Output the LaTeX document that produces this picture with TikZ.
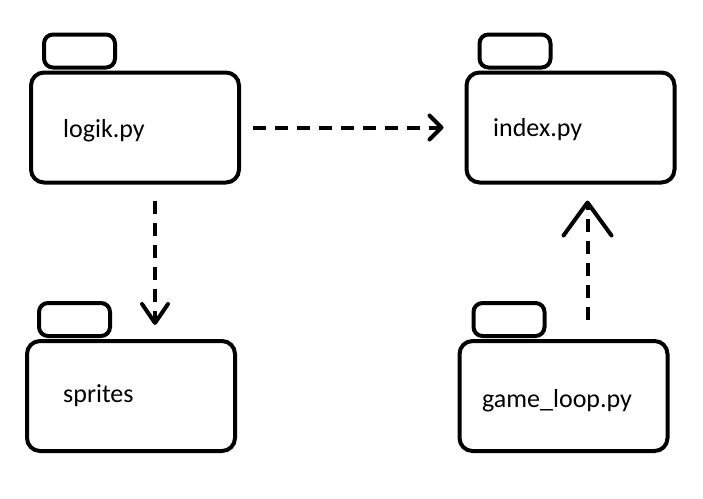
\documentclass[tikz,border=0pt]{standalone}
\usepackage{fontspec}
\setmainfont{Carlito}
\usetikzlibrary{arrows.meta}

\begin{document}
\begin{tikzpicture}[x=1pt,y=-1pt,
    pkgbody/.style={draw, line width=4pt, rounded corners=13pt, minimum width=208pt, minimum height=110pt, inner sep=0pt},
    pkgtab/.style={draw, line width=4pt, rounded corners=9pt, minimum width=71pt, minimum height=33pt, inner sep=0pt, anchor=south west},
    pkgname/.style={anchor=base west, inner sep=0pt, font=\fontsize{26}{31}\selectfont},
    dep/.style={line width=4pt, dash pattern=on 13pt off 9pt},
    barb/.style={-{Straight Barb[length=#1, line cap=round, line join=round]}}]
    \useasboundingbox (0,0) rectangle (703,498);

    % packages
    \node[pkgbody] (logik) at (135,127.5) {};
    \node[pkgtab] (logik-tab) at ([xshift=13pt,yshift=1pt]logik.north west) {};
    \node[pkgname] (logik-name) at (63,137) {logik.py};

    \node[pkgbody] (index) at (570.5,127.5) {};
    \node[pkgtab] (index-tab) at ([xshift=13pt,yshift=1pt]index.north west) {};
    \node[pkgname] (index-name) at (493,136) {index.py};

    \node[pkgbody] (sprites) at (131,396) {};
    \node[pkgtab] (sprites-tab) at ([xshift=12pt,yshift=1pt]sprites.north west) {};
    \node[pkgname] (sprites-name) at (63,402) {sprites};

    \node[pkgbody] (game) at (563.5,396) {};
    \node[pkgtab] (game-tab) at ([xshift=14pt,yshift=1pt]game.north west) {};
    \node[pkgname] (game-name) at (482,407) {game\_loop.py};

    % dependencies
    \draw[dep, barb={12pt, width=24pt}, shorten <=12pt, shorten >=21pt] (logik.east) -- (index.west);
    \draw[dep, barb={19pt, width=26pt}, shorten <=16pt, shorten >=14pt]
        ([xshift=20pt]logik.south) -- ([xshift=20pt]logik.south |- sprites.north);
    \draw[dep, barb={33pt, width=48pt}, shorten <=19pt, shorten >=16pt]
        ([xshift=24pt]game.north) -- ([xshift=24pt]game.north |- index.south);
\end{tikzpicture}
\end{document}
